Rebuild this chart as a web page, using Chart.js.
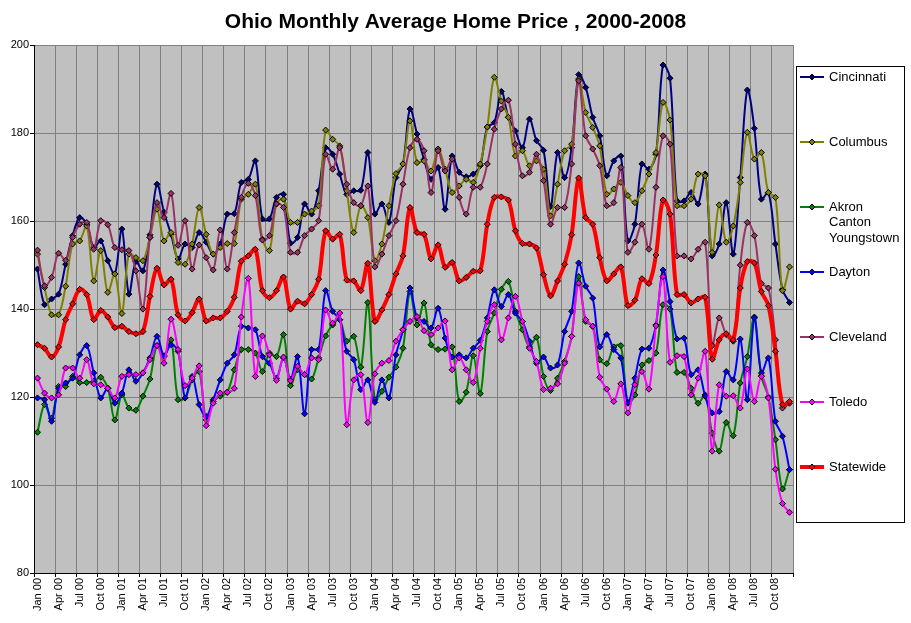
<!DOCTYPE html>
<html>
<head>
<meta charset="utf-8">
<title>Ohio Monthly Average Home Price, 2000-2008</title>
<script src="https://cdn.jsdelivr.net/npm/chart.js@4.4.1/dist/chart.umd.min.js"></script>
<style>
  html, body { margin: 0; padding: 0; background: #fff; }
  #wrap { width: 911px; height: 623px; }
</style>
</head>
<body>
<div id="wrap"><canvas id="homePriceChart" width="911" height="623"></canvas></div>
<script>
var monthNames = ["Jan", "Feb", "Mar", "Apr", "May", "Jun", "Jul", "Aug", "Sep", "Oct", "Nov", "Dec"];
var yearNames = ["00", "01", "02", "03", "04", "05", "06", "07", "08"];
var yTicks = [80, 100, 120, 140, 160, 180, 200];

var seriesNames = ["Cincinnati", "Columbus", "Akron Canton Youngstown", "Dayton", "Cleveland", "Toledo", "Statewide"];

var cincinnati = [149.1, 141.0, 142.3, 143.4, 150.2, 156.7, 160.8, 159.3, 154.0, 155.5, 151.0, 148.0,
    158.2, 143.4, 150.8, 148.7, 156.9, 168.4, 162.0, 157.0, 151.4, 154.8, 154.0, 157.4,
    155.2, 152.5, 154.8, 161.6, 161.7, 168.8, 169.5, 173.7, 160.5, 160.5, 165.4, 166.1,
    155.0, 156.3, 163.9, 161.6, 166.9, 176.7, 175.2, 170.7, 166.1, 166.9, 167.0, 175.6,
    161.6, 163.9, 159.7, 169.9, 173.0, 185.5, 179.8, 174.0, 169.5, 172.2, 162.7, 174.8,
    171.1, 170.1, 170.7, 172.6, 181.4, 182.4, 189.5, 183.6, 180.5, 176.7, 183.2, 178.3,
    176.1, 163.3, 175.6, 169.9, 176.7, 193.3, 190.4, 183.6, 179.4, 170.3, 173.7, 174.8,
    155.5, 159.3, 173.0, 171.8, 175.2, 195.5, 192.5, 164.6, 164.6, 166.5, 163.9, 170.7,
    152.1, 154.8, 164.2, 152.5, 169.9, 189.8, 181.1, 165.0, 166.5, 154.8, 144.5, 141.5];

var columbus = [152.5, 144.9, 138.7, 138.7, 145.2, 154.8, 155.5, 158.9, 146.4, 153.3, 143.8, 148.0,
    139.0, 152.5, 151.7, 151.0, 156.3, 162.7, 155.5, 157.4, 150.6, 150.2, 154.8, 163.1,
    157.0, 152.5, 154.0, 154.9, 154.9, 165.0, 166.1, 168.4, 155.9, 153.3, 163.9, 165.0,
    159.7, 159.7, 161.6, 162.3, 163.5, 180.7, 178.6, 177.1, 166.9, 157.4, 163.5, 160.8,
    151.0, 154.8, 163.5, 170.8, 173.0, 182.8, 173.3, 173.7, 171.4, 176.4, 171.8, 166.5,
    168.0, 169.5, 168.8, 173.0, 181.4, 192.7, 187.3, 183.6, 174.8, 176.0, 172.6, 173.7,
    171.8, 161.2, 168.4, 176.0, 177.5, 192.3, 184.7, 181.3, 177.1, 166.1, 167.3, 168.8,
    165.8, 164.2, 166.9, 170.7, 175.6, 187.0, 183.0, 163.5, 163.5, 165.0, 170.7, 170.3,
    152.9, 163.7, 155.2, 158.9, 168.8, 180.2, 174.1, 175.6, 166.5, 165.4, 144.2, 149.6];

var akron = [112.0, 118.3, 115.2, 122.4, 122.4, 124.7, 123.3, 123.3, 123.6, 124.5, 122.0, 114.8,
    120.5, 117.5, 117.0, 120.2, 124.1, 131.7, 129.2, 133.0, 119.4, 119.8, 123.9, 125.8,
    114.8, 119.0, 120.2, 121.1, 126.2, 130.8, 130.8, 130.0, 125.8, 130.0, 129.2, 134.2,
    122.6, 126.2, 125.1, 124.1, 128.9, 133.9, 136.4, 137.6, 132.7, 133.8, 126.8, 141.5,
    119.4, 121.3, 124.5, 126.8, 131.1, 144.0, 136.4, 141.4, 131.9, 130.8, 130.9, 131.4,
    119.0, 121.1, 129.4, 120.8, 134.9, 139.1, 144.5, 146.3, 139.5, 135.3, 131.4, 133.6,
    124.7, 121.5, 124.3, 128.1, 133.8, 147.4, 137.2, 136.1, 128.5, 127.6, 131.4, 131.7,
    118.6, 120.5, 127.3, 128.3, 130.0, 141.0, 140.0, 125.6, 125.6, 122.0, 118.6, 120.5,
    111.8, 107.7, 114.2, 111.2, 123.2, 129.2, 138.2, 124.8, 120.0, 110.3, 99.1, 103.5];

var dayton = [119.8, 119.4, 114.5, 122.0, 123.2, 124.3, 129.6, 131.7, 125.5, 119.8, 122.0, 118.6,
    120.9, 126.2, 123.6, 125.5, 128.9, 133.8, 129.4, 131.9, 130.4, 119.8, 124.7, 118.3,
    115.6, 119.4, 123.9, 127.7, 129.6, 136.1, 135.7, 135.3, 129.2, 127.7, 124.3, 128.9,
    124.1, 129.2, 116.2, 130.8, 130.8, 144.2, 139.5, 137.6, 130.4, 128.5, 121.7, 123.9,
    118.8, 123.9, 119.8, 129.6, 135.3, 144.8, 138.0, 137.2, 135.7, 140.2, 133.4, 129.1,
    129.6, 128.9, 131.1, 132.9, 138.0, 144.4, 140.6, 143.3, 139.1, 137.2, 132.7, 127.7,
    129.1, 126.6, 127.3, 134.9, 139.5, 150.5, 145.2, 142.5, 131.4, 134.2, 130.8, 128.9,
    118.8, 124.3, 130.9, 131.1, 136.4, 148.9, 141.7, 133.2, 133.4, 125.1, 126.2, 120.2,
    116.4, 116.7, 125.8, 123.9, 133.2, 119.4, 138.0, 125.5, 128.9, 114.5, 111.1, 103.5];

var cleveland = [153.4, 145.3, 147.2, 152.7, 151.1, 156.3, 159.3, 159.7, 153.6, 160.1, 159.2, 154.0,
    153.5, 153.3, 148.7, 140.0, 156.3, 164.2, 160.8, 166.3, 154.5, 160.1, 149.1, 154.6,
    151.7, 148.9, 158.0, 149.1, 157.4, 165.4, 168.6, 165.8, 155.7, 156.7, 163.9, 163.1,
    152.9, 152.9, 156.7, 158.2, 160.1, 175.2, 171.8, 176.7, 168.4, 164.2, 163.5, 168.0,
    149.6, 152.5, 156.7, 160.1, 168.4, 176.7, 178.6, 176.0, 166.5, 176.0, 171.4, 174.1,
    165.4, 161.6, 167.7, 167.7, 173.0, 180.9, 185.5, 187.5, 177.5, 170.3, 171.1, 175.2,
    169.2, 159.3, 163.1, 163.1, 173.0, 191.9, 179.4, 176.4, 172.6, 163.5, 164.2, 172.2,
    152.9, 155.2, 159.3, 153.6, 167.7, 179.4, 177.5, 152.1, 152.1, 151.4, 153.6, 155.2,
    131.7, 138.0, 134.2, 132.7, 150.0, 159.7, 156.7, 145.8, 144.8, 133.0, 117.5, 118.6];

var toledo = [124.3, 120.9, 119.8, 120.5, 126.6, 126.6, 124.3, 128.5, 123.0, 122.8, 122.0, 119.8,
    124.7, 125.1, 125.1, 125.5, 128.5, 131.7, 127.7, 137.7, 130.8, 122.6, 124.3, 127.1,
    113.5, 118.6, 120.9, 121.1, 122.0, 138.2, 147.0, 124.7, 133.9, 129.6, 123.8, 129.1,
    123.7, 127.0, 125.1, 128.9, 128.5, 139.8, 136.8, 139.1, 113.7, 123.9, 125.1, 114.2,
    125.3, 127.7, 128.3, 132.7, 135.3, 137.2, 138.3, 135.1, 134.2, 135.7, 137.3, 126.2,
    128.9, 126.2, 123.3, 131.1, 137.2, 141.0, 133.0, 138.0, 142.9, 137.2, 131.1, 128.1,
    121.7, 122.0, 123.0, 127.7, 133.8, 145.9, 137.6, 136.1, 124.5, 121.8, 119.0, 123.0,
    116.4, 122.8, 125.8, 121.8, 136.2, 147.4, 127.9, 129.4, 129.2, 120.5, 124.3, 130.4,
    107.7, 122.8, 120.2, 120.3, 117.5, 126.4, 119.0, 124.7, 119.8, 103.6, 95.8, 93.8];

var statewide = [131.9, 131.1, 129.1, 131.4, 137.6, 141.2, 144.5, 143.3, 137.6, 139.7, 138.2, 135.8,
    136.1, 134.9, 134.4, 134.9, 142.9, 149.3, 145.5, 146.8, 138.7, 137.3, 139.2, 142.3,
    137.3, 138.0, 138.0, 139.5, 142.7, 150.9, 152.1, 153.6, 144.2, 142.6, 144.2, 147.3,
    140.0, 141.8, 141.2, 143.3, 146.8, 157.8, 155.9, 157.0, 146.6, 146.4, 144.2, 150.4,
    137.2, 139.8, 143.3, 148.0, 152.1, 163.1, 157.4, 157.0, 151.4, 154.6, 149.5, 150.6,
    146.4, 147.2, 148.6, 148.7, 159.3, 165.4, 165.5, 164.8, 157.8, 154.9, 154.8, 153.9,
    147.8, 143.0, 146.4, 150.2, 156.9, 169.8, 160.8, 159.3, 151.7, 146.4, 148.0, 149.6,
    140.8, 142.0, 146.9, 145.8, 152.3, 164.8, 161.6, 143.3, 143.3, 141.4, 142.3, 142.7,
    128.6, 133.0, 134.4, 133.0, 144.8, 150.8, 150.5, 144.0, 140.8, 130.4, 118.3, 119.0];

// month labels "Jan 00" ... "Dec 08"
var monthLabels = [];
for (var y = 0; y < yearNames.length; y++) {
    for (var m = 0; m < monthNames.length; m++) {
        monthLabels.push(monthNames[m] + " " + yearNames[y]);
    }
}

var FONT = '"Liberation Sans", Arial, sans-serif';

function makeDataset(index, values, color, width) {
    return {
        label: seriesNames[index],
        data: values,
        borderColor: color,
        backgroundColor: color,
        borderWidth: width,
        tension: 0.35,
        pointStyle: 'rectRot',
        pointRadius: 3,
        pointBackgroundColor: color,
        pointBorderColor: '#000',
        pointBorderWidth: 1,
        fill: false,
        order: 10 - index // later series drawn on top, like Excel
    };
}

var plotBackground = {
    id: 'plotBackground',
    beforeDraw: function(chart) {
        var a = chart.chartArea;
        chart.ctx.save();
        chart.ctx.fillStyle = '#C0C0C0';
        chart.ctx.fillRect(a.left, a.top, a.right - a.left, a.bottom - a.top);
        chart.ctx.restore();
    }
};

// boxed legend on the right, with word wrap for the long name
var boxLegend = {
    id: 'boxLegend',
    afterDraw: function(chart) {
        var ctx = chart.ctx;
        var left = 796, top = 66, width = 109, height = 457;
        ctx.save();
        ctx.fillStyle = '#fff';
        ctx.fillRect(left, top, width, height);
        ctx.strokeStyle = '#000';
        ctx.lineWidth = 1;
        ctx.strokeRect(left + 0.5, top + 0.5, width - 1, height - 1);
        ctx.font = '13px ' + FONT;
        ctx.textBaseline = 'middle';
        chart.data.datasets.forEach(function(ds, i) {
            var y = top + 11 + i * 65;
            ctx.strokeStyle = ds.borderColor;
            ctx.lineWidth = ds.borderWidth;
            ctx.beginPath();
            ctx.moveTo(left + 4, y);
            ctx.lineTo(left + 28, y);
            ctx.stroke();
            ctx.beginPath();
            ctx.moveTo(left + 16, y - 3);
            ctx.lineTo(left + 19, y);
            ctx.lineTo(left + 16, y + 3);
            ctx.lineTo(left + 13, y);
            ctx.closePath();
            ctx.fillStyle = ds.borderColor;
            ctx.fill();
            ctx.strokeStyle = '#000';
            ctx.lineWidth = 1;
            ctx.stroke();

            var words = ds.label.split(' ');
            var lines = [];
            var line = '';
            words.forEach(function(w) {
                var test = line ? line + ' ' + w : w;
                if (line && ctx.measureText(test).width > 72) {
                    lines.push(line);
                    line = w;
                } else {
                    line = test;
                }
            });
            lines.push(line);
            ctx.fillStyle = '#000';
            lines.forEach(function(t, k) {
                ctx.fillText(t, left + 33, y + k * 15.5);
            });
        });
        ctx.restore();
    }
};

function gridEvery3(c) {
    var i = c.index === undefined ? 0 : c.index;
    return i % 3 === 0 ? '#808080' : 'rgba(0,0,0,0)';
}

function tickEvery3(c) {
    var i = c.index === undefined ? 0 : c.index;
    return i % 3 === 0 ? '#000' : 'rgba(0,0,0,0)';
}

var chart = new Chart(document.getElementById('homePriceChart'), {
    type: 'line',
    data: {
        labels: monthLabels,
        datasets: [
            makeDataset(0, cincinnati, '#000080', 2),
            makeDataset(1, columbus, '#808000', 2),
            makeDataset(2, akron, '#008000', 2),
            makeDataset(3, dayton, '#0000FF', 2),
            makeDataset(4, cleveland, '#993366', 2),
            makeDataset(5, toledo, '#FF00FF', 2),
            makeDataset(6, statewide, '#FF0000', 4)
        ]
    },
    options: {
        responsive: false,
        animation: false,
        devicePixelRatio: 1,
        layout: { padding: 0 },
        plugins: {
            legend: { display: false },
            tooltip: { enabled: false },
            title: {
                display: true,
                text: 'Ohio Monthly Average Home Price , 2000-2008',
                color: '#000',
                font: { family: FONT, size: 21, weight: 'bold' },
                padding: { top: 10, bottom: 10 }
            }
        },
        scales: {
            x: {
                type: 'category',
                offset: true,
                grid: { offset: true, color: gridEvery3, tickColor: tickEvery3, tickLength: 4 },
                border: { color: '#000', width: 1 },
                ticks: {
                    autoSkip: false,
                    minRotation: 90,
                    maxRotation: 90,
                    padding: 1,
                    color: '#000',
                    font: { family: FONT, size: 11 },
                    callback: function(value, index) {
                        return index % 3 === 0 ? this.getLabelForValue(value) : '';
                    }
                },
                afterFit: function(scale) { scale.height = 50; }
            },
            y: {
                min: yTicks[0],
                max: yTicks[yTicks.length - 1],
                afterBuildTicks: function(scale) {
                    scale.ticks = yTicks.map(function(v) { return { value: v }; });
                },
                grid: { color: '#808080', tickColor: '#000', tickLength: 4 },
                border: { color: '#000', width: 1 },
                ticks: { padding: 1, color: '#000', font: { family: FONT, size: 11 } },
                afterFit: function(scale) { scale.width = 34; }
            },
            // empty right-hand axis that only reserves room for the legend box
            legendSpace: {
                position: 'right',
                display: true,
                grid: { display: false },
                border: { display: false },
                ticks: { display: false },
                afterFit: function(scale) { scale.width = 118; }
            }
        }
    },
    plugins: [plotBackground, boxLegend]
});
</script>
</body>
</html>
